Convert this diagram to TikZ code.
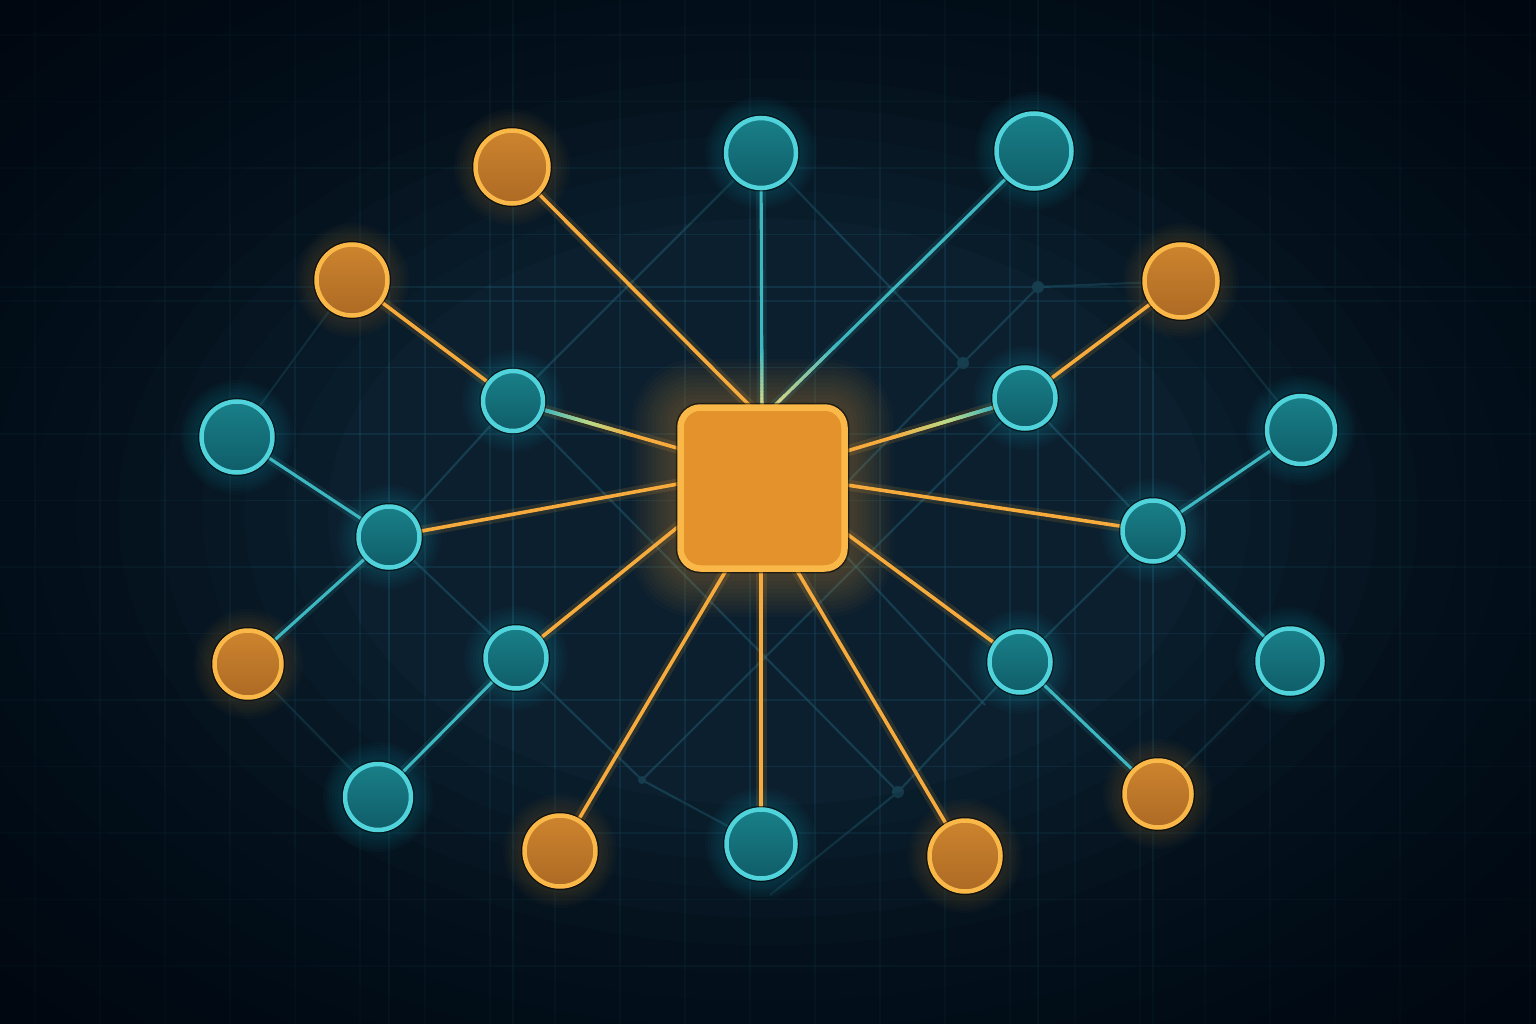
\documentclass[tikz,border=0pt]{standalone}
\usetikzlibrary{calc}
\pgfdeclarelayer{bglayer}
\pgfdeclarelayer{edgelayer}
\pgfsetlayers{bglayer,edgelayer,main}
\definecolor{bgout}{HTML}{01070F}
\definecolor{bgin}{HTML}{0B1F2E}
\definecolor{gridc}{HTML}{17465A}
\definecolor{latc}{HTML}{1C5266}
\definecolor{dotc}{HTML}{163E4E}
\definecolor{tealA}{HTML}{198089}
\definecolor{tealB}{HTML}{0F5D68}
\definecolor{cyanb}{HTML}{50D3DA}
\definecolor{tealline}{HTML}{3DB8C1}
\definecolor{tealglow}{HTML}{1E9AAE}
\definecolor{orA}{HTML}{CD842E}
\definecolor{orB}{HTML}{AD6A24}
\definecolor{orb}{HTML}{FAB848}
\definecolor{orline}{HTML}{F6AB3C}
\definecolor{orglow}{HTML}{F0A030}
\definecolor{sqfill}{HTML}{E4922B}
\definecolor{gmix}{HTML}{B8DA88}
\definecolor{ymix}{HTML}{E2D47E}
\tikzset{
  basenode/.style={circle, inner sep=0pt, outer sep=0pt},
  tnode/.style={basenode, minimum size=#1, top color=tealA, bottom color=tealB,
    draw=cyanb, line width=4.5pt, preaction={draw=black, draw opacity=0.6, line width=7pt}},
  onode/.style={basenode, minimum size=#1, top color=orA, bottom color=orB,
    draw=orb, line width=4.5pt, preaction={draw=black, draw opacity=0.6, line width=7pt}},
  sqnode/.style={rectangle, rounded corners=20pt, inner sep=0pt, outer sep=0pt,
    minimum width=164pt, minimum height=161pt, fill=sqfill, draw=orb, line width=6.5pt,
    preaction={draw=black, draw opacity=0.55, line width=9.5pt}},
  oedge/.style={draw=orline, line width=3.6pt, preaction={draw=orline, draw opacity=0.13, line width=11pt}},
  tedge/.style={draw=tealline, line width=3.1pt, preaction={draw=tealline, draw opacity=0.12, line width=10pt}},
  latt/.style={draw=latc, line width=2.2pt, draw opacity=0.6},
  gridline/.style={draw=gridc, line width=1.2pt, draw opacity=0.4},
  gridbold/.style={draw=gridc, line width=2.2pt, draw opacity=0.55},
}
\newcommand{\gradseg}[7]{%
  \foreach \i in {0,...,15}{%
    \pgfmathsetmacro{\ta}{#3+(#4-#3)*\i/16}%
    \pgfmathsetmacro{\tb}{#3+(#4-#3)*(\i+1)/16+0.004}%
    \pgfmathtruncatemacro{\pc}{100*\i/15}%
    \draw[line width=#7, line cap=butt, draw={#6!\pc!#5}] ($(#1)!\ta!(#2)$) -- ($(#1)!\tb!(#2)$);
  }}
\begin{document}
\begin{tikzpicture}[x=1pt,y=-1pt]
\useasboundingbox (0,0) rectangle (1536,1024);

% ---------- nodes ----------
\node[onode=73] (O1) at (512,167) {};
\node[onode=71] (O2) at (352,280) {};
\node[onode=73] (O3) at (1181,281) {};
\node[onode=67] (O4) at (248,664) {};
\node[onode=71] (O5) at (560,851) {};
\node[onode=71] (O6) at (965,856) {};
\node[onode=67] (O7) at (1158,794) {};
\node[tnode=70] (T1) at (761,153) {};
\node[tnode=75] (T2) at (1034,151) {};
\node[tnode=60] (T3) at (513,401) {};
\node[tnode=61] (T4) at (1025,398) {};
\node[tnode=71] (T5) at (237,437) {};
\node[tnode=68] (T6) at (1301,430) {};
\node[tnode=61] (T7) at (389,537) {};
\node[tnode=61] (T8) at (1153,531) {};
\node[tnode=61] (T9) at (516,658) {};
\node[tnode=61] (T10) at (1020,662) {};
\node[tnode=65] (T11) at (1290,661) {};
\node[tnode=66] (T12) at (378,797) {};
\node[tnode=69] (T13) at (761,844) {};
\node[sqnode] (C) at (762.5,488) {};

% attachment points on the hub
\coordinate (aTop) at (762,418);
\coordinate (aT3) at (705,456);
\coordinate (aT7) at (705,479);
\coordinate (aT9) at (705,505);
\coordinate (aO5) at (744,540);
\coordinate (aT13) at (761,540);
\coordinate (aO6) at (779,540);
\coordinate (aT10) at (820,514);
\coordinate (aT8) at (820,481);
\coordinate (aT4) at (820,459);

% lattice points
\coordinate (D1) at (963,363);
\coordinate (D2) at (1038,287);
\coordinate (D3) at (898,792);
\coordinate (D4) at (642,780);
\coordinate (L1) at (830,500);
\coordinate (L2) at (845,555);
\coordinate (L3) at (985,705);
\coordinate (E1) at (770,895);

% ---------- background ----------
\begin{pgfonlayer}{bglayer}
\clip (0,0) rectangle (1536,1024);
\fill[bgin] (0,0) rectangle (1536,1024);
\foreach \x in {35,100,...,1535} \draw[gridline] (\x,0) -- (\x,1024);
\foreach \y in {35,101.5,...,1020} \draw[gridline] (0,\y) -- (1536,\y);
\foreach \x in {389,513,1038,1153} \draw[gridbold] (\x,0) -- (\x,1024);
\draw[gridbold] (0,287) -- (1536,287);
% faint lattice
\draw[latt] (T1.center) -- (T3.center);
\draw[latt] (T1.center) -- (D1) -- (D2) -- (O3.center);
\draw[latt] (D1) -- (L1);
\draw[latt] (T4.center) -- (T8.center);
\draw[latt] (T4.center) -- (D4);
\draw[latt] (O3.center) -- (T6.center);
\draw[latt] (T5.center) -- (O2.center);
\draw[latt] (T3.center) -- (T7.center);
\draw[latt] (T3.center) -- (D3);
\draw[latt] (T7.center) -- (T9.center);
\draw[latt] (O4.center) -- (T12.center);
\draw[latt] (T9.center) -- (D4) -- (T13.center);
\draw[latt] (D3) -- (T10.center);
\draw[latt] (D3) -- (E1);
\draw[latt] (L2) -- (L3);
\draw[latt] (T10.center) -- (T8.center);
\draw[latt] (T11.center) -- (O7.center);
\foreach \p/\r in {D1/6,D2/6,D3/6,D4/4} \fill[dotc] (\p) circle[radius=\r pt];
% vignette (stacked elliptical rings)
\foreach \k in {0,...,15}{
  \pgfmathsetmacro{\rx}{440+42*\k}
  \pgfmathsetmacro{\ry}{0.667*\rx}
  \fill[bgout, opacity=0.11, even odd rule] (-10,-10) rectangle (1546,1034)
     (768,512) ellipse[x radius=\rx pt, y radius=\ry pt];
}
% glows
\foreach \k in {4,8,...,44}{
  \pgfmathsetmacro{\rc}{20+\k}
  \fill[orglow, opacity=0.026, rounded corners=\rc pt] ($(C.center)+(-87-\k,-85-\k)$) rectangle ($(C.center)+(87+\k,85+\k)$);
}
\foreach \n/\r/\c/\o in {O1/40/orglow/0.024,O2/39/orglow/0.024,O3/40/orglow/0.024,O4/37/orglow/0.024,O5/39/orglow/0.024,O6/39/orglow/0.024,O7/37/orglow/0.024,
  T1/38/tealglow/0.04,T2/41/tealglow/0.04,T3/33/tealglow/0.04,T4/34/tealglow/0.04,T5/39/tealglow/0.04,T6/37/tealglow/0.04,T7/34/tealglow/0.04,
  T8/34/tealglow/0.04,T9/34/tealglow/0.04,T10/34/tealglow/0.04,T11/36/tealglow/0.04,T12/37/tealglow/0.04,T13/38/tealglow/0.04}{
  \foreach \k in {3,6,...,18} \fill[\c, opacity=\o] (\n.center) circle[radius={(\r+\k)*1pt}];
}
\end{pgfonlayer}

% ---------- connectors ----------
\begin{pgfonlayer}{edgelayer}
\draw[oedge] (O1.center) -- (aTop);
\draw[tedge] (T1.center) -- (aTop);
\draw[tedge] (T2.center) -- (aTop);
\draw[oedge] (T3.center) -- (aT3);
\draw[oedge] (T4.center) -- (aT4);
\draw[oedge] (T7.center) -- (aT7);
\draw[oedge] (T8.center) -- (aT8);
\draw[oedge] (T9.center) -- (aT9);
\draw[oedge] (T10.center) -- (aT10);
\draw[oedge] (O5.center) -- (aO5);
\draw[oedge] (T13.center) -- (aT13);
\draw[oedge] (O6.center) -- (aO6);
\draw[oedge] (O2.center) -- (T3.center);
\draw[oedge] (O3.center) -- (T4.center);
\draw[tedge] (T5.center) -- (T7.center);
\draw[tedge] (O4.center) -- (T7.center);
\draw[tedge] (T6.center) -- (T8.center);
\draw[tedge] (T11.center) -- (T8.center);
\draw[tedge] (T12.center) -- (T9.center);
\draw[tedge] (O7.center) -- (T10.center);
% colour blends
\gradseg{T3.center}{aT3}{0.16}{0.40}{tealline}{gmix}{3.6pt}
\gradseg{T3.center}{aT3}{0.40}{0.62}{gmix}{orline}{3.6pt}
\gradseg{T4.center}{aT4}{0.16}{0.37}{tealline}{gmix}{3.6pt}
\gradseg{T4.center}{aT4}{0.37}{0.65}{gmix}{orline}{3.6pt}
\gradseg{T1.center}{aTop}{0.74}{0.95}{tealline}{ymix}{3.1pt}
\gradseg{T2.center}{aTop}{0.72}{0.96}{tealline}{ymix}{3.1pt}
\end{pgfonlayer}
\end{tikzpicture}
\end{document}
